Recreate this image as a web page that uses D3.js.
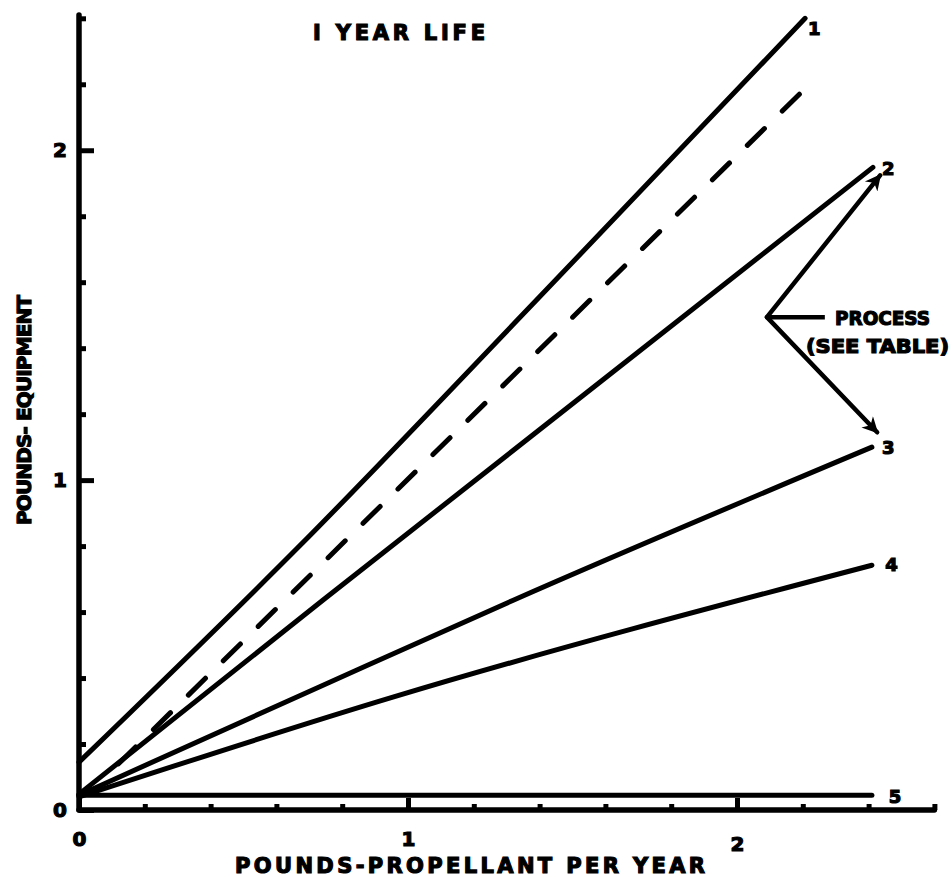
<!DOCTYPE html>
<html>
<head>
<meta charset="utf-8">
<script src="https://cdn.jsdelivr.net/npm/d3@7"></script>
<style>
    body { margin: 0; background: #fff; }
    svg text { font-family: "DejaVu Sans", sans-serif; font-weight: bold; fill: #000; stroke: #000; stroke-width: 1.2px; }
</style>
</head>
<body>
<svg id="chart" width="952" height="877"></svg>
<script>
"use strict";

// values (x = lb propellant / yr, y = lb equipment)
var curve1 = [[0, 0.145], [0.67, 0.80], [1.39, 1.545], [2.207, 2.40]];
var curve2 = [[0, 0.048], [0.74, 0.635], [2.413, 1.948]];
var curve3 = [[0, 0.045], [0.73, 0.373], [1.32, 0.636], [2.41, 1.10]];
var curve4 = [[0, 0.04], [0.954, 0.342], [2.41, 0.742]];
var curve5 = [[0, 0.045], [2.41, 0.045]];
var dashedCurve = [[0.12, 0.14], [2.21, 2.19]];

var curveLabels = ["1", "2", "3", "4", "5"];
var curveLabelPos = [[2.235, 2.37], [2.46, 1.945], [2.46, 1.10], [2.47, 0.745], [2.48, 0.04]];

var xMajorTicks = [0, 1, 2];
var xTickLabels = ["0", "1", "2"];
var xMinorTicks = [0.2, 0.4, 0.6, 0.8, 1.2, 1.4, 1.6, 1.8, 2.2, 2.4, 2.6];
var yMajorTicks = [0, 1, 2];
var yTickLabels = ["0", "1", "2"];
var yMinorTicks = [0.2, 0.4, 0.6, 0.8, 1.2, 1.4, 1.6, 1.8, 2.2, 2.4];

// "PROCESS (SEE TABLE)" callout, data units
var calloutVertex = [2.091, 1.494];
var calloutLeaderEnd = [2.267, 1.494];
var calloutTips = [[2.435, 1.924], [2.426, 1.145]];

var svg = d3.select("#chart");

var x = d3.scaleLinear().domain([0, 2.6]).range([79, 934.4]);
var y = d3.scaleLinear().domain([0, 2.41]).range([810, 15]);

svg.append("defs").append("marker")
    .attr("id", "head")
    .attr("viewBox", "0 0 10 10")
    .attr("refX", 9)
    .attr("refY", 5)
    .attr("markerUnits", "userSpaceOnUse")
    .attr("markerWidth", 26)
    .attr("markerHeight", 16)
    .attr("orient", "auto")
    .append("path")
    .attr("d", "M0,0 L10,5 L0,10 L3,5 Z")
    .attr("fill", "#000");

// axes
var xAxisMinor = d3.axisBottom(x).tickValues(xMinorTicks).tickSizeInner(-6).tickSizeOuter(0).tickFormat("");
var xAxisMajor = d3.axisBottom(x).tickValues(xMajorTicks).tickSizeInner(-12).tickSizeOuter(0)
    .tickFormat(function (d, i) { return xTickLabels[i]; });
var yAxisMinor = d3.axisLeft(y).tickValues(yMinorTicks).tickSizeInner(-7).tickSizeOuter(0).tickFormat("");
var yAxisMajor = d3.axisLeft(y).tickValues(yMajorTicks).tickSizeInner(-15).tickSizeOuter(0)
    .tickFormat(function (d, i) { return yTickLabels[i]; });

function styleAxis(g) {
    g.select(".domain").attr("d", null);
    g.selectAll(".tick line").attr("stroke", "#000").attr("stroke-width", 5);
    g.selectAll(".tick text").attr("font-size", 20).attr("font-family", null);
}

svg.append("g").attr("transform", "translate(0," + y(0) + ")").call(xAxisMinor).call(styleAxis);
svg.append("g").attr("transform", "translate(0," + y(0) + ")").call(xAxisMajor).call(styleAxis)
    .selectAll(".tick text").attr("dy", null).attr("y", 36)
    .filter(function (d) { return d === 2; }).attr("y", 41);
svg.append("g").attr("transform", "translate(" + x(0) + ",0)").call(yAxisMinor).call(styleAxis);
svg.append("g").attr("transform", "translate(" + x(0) + ",0)").call(yAxisMajor).call(styleAxis)
    .selectAll(".tick text").attr("x", -12);

svg.append("line").attr("x1", x(0)).attr("x2", x(2.6)).attr("y1", y(0)).attr("y2", y(0))
    .attr("stroke", "#000").attr("stroke-width", 5.5).attr("stroke-linecap", "round");
svg.append("line").attr("x1", x(0)).attr("x2", x(0)).attr("y1", y(0)).attr("y2", y(2.41))
    .attr("stroke", "#000").attr("stroke-width", 5.5).attr("stroke-linecap", "round");

// curves
var lineGen = d3.line()
    .x(function (d) { return x(d[0]); })
    .y(function (d) { return y(d[1]); })
    .curve(d3.curveMonotoneX);
var curves = [curve1, curve2, curve3, curve4, curve5];

svg.append("g").selectAll("path.curve")
    .data(curves)
    .enter()
    .append("path")
    .attr("class", "curve")
    .attr("d", lineGen)
    .attr("fill", "none")
    .attr("stroke", "#000")
    .attr("stroke-width", 5)
    .attr("stroke-linecap", "round");

svg.append("path")
    .datum(dashedCurve)
    .attr("d", lineGen)
    .attr("fill", "none")
    .attr("stroke", "#000")
    .attr("stroke-width", 5)
    .attr("stroke-linecap", "round")
    .attr("stroke-dasharray", "24,25");

svg.append("g").selectAll("text")
    .data(curveLabels)
    .enter()
    .append("text")
    .attr("x", function (d, i) { return x(curveLabelPos[i][0]); })
    .attr("y", function (d, i) { return y(curveLabelPos[i][1]); })
    .attr("dy", "0.36em")
    .attr("text-anchor", "middle")
    .attr("font-size", 18)
    .text(function (d) { return d; });

// callout
svg.append("line")
    .attr("x1", x(calloutVertex[0])).attr("y1", y(calloutVertex[1]))
    .attr("x2", x(calloutLeaderEnd[0])).attr("y2", y(calloutLeaderEnd[1]))
    .attr("stroke", "#000").attr("stroke-width", 4.5);

svg.append("g").selectAll("line")
    .data(calloutTips)
    .enter()
    .append("line")
    .attr("x1", x(calloutVertex[0])).attr("y1", y(calloutVertex[1]))
    .attr("x2", function (d) { return x(d[0]); })
    .attr("y2", function (d) { return y(d[1]); })
    .attr("stroke", "#000")
    .attr("stroke-width", 4.5)
    .attr("stroke-linecap", "round")
    .attr("marker-end", "url(#head)");

svg.append("text").attr("x", 835).attr("y", 325).attr("font-size", 19)
    .attr("textLength", 95).attr("lengthAdjust", "spacingAndGlyphs").text("PROCESS");
svg.append("text").attr("x", 806).attr("y", 353).attr("font-size", 19)
    .attr("textLength", 143).attr("lengthAdjust", "spacingAndGlyphs").text("(SEE TABLE)");

// titles
svg.append("text").attr("x", 313).attr("y", 40).attr("font-size", 21)
    .attr("textLength", 172).attr("lengthAdjust", "spacing").text("I YEAR LIFE");

svg.append("text").attr("x", 235).attr("y", 873).attr("font-size", 21)
    .attr("textLength", 470).attr("lengthAdjust", "spacing").text("POUNDS-PROPELLANT PER YEAR");

svg.append("text")
    .attr("transform", "translate(31,525) rotate(-90)")
    .attr("font-size", 20)
    .attr("textLength", 230).attr("lengthAdjust", "spacing")
    .text("POUNDS- EQUIPMENT");
</script>
</body>
</html>
